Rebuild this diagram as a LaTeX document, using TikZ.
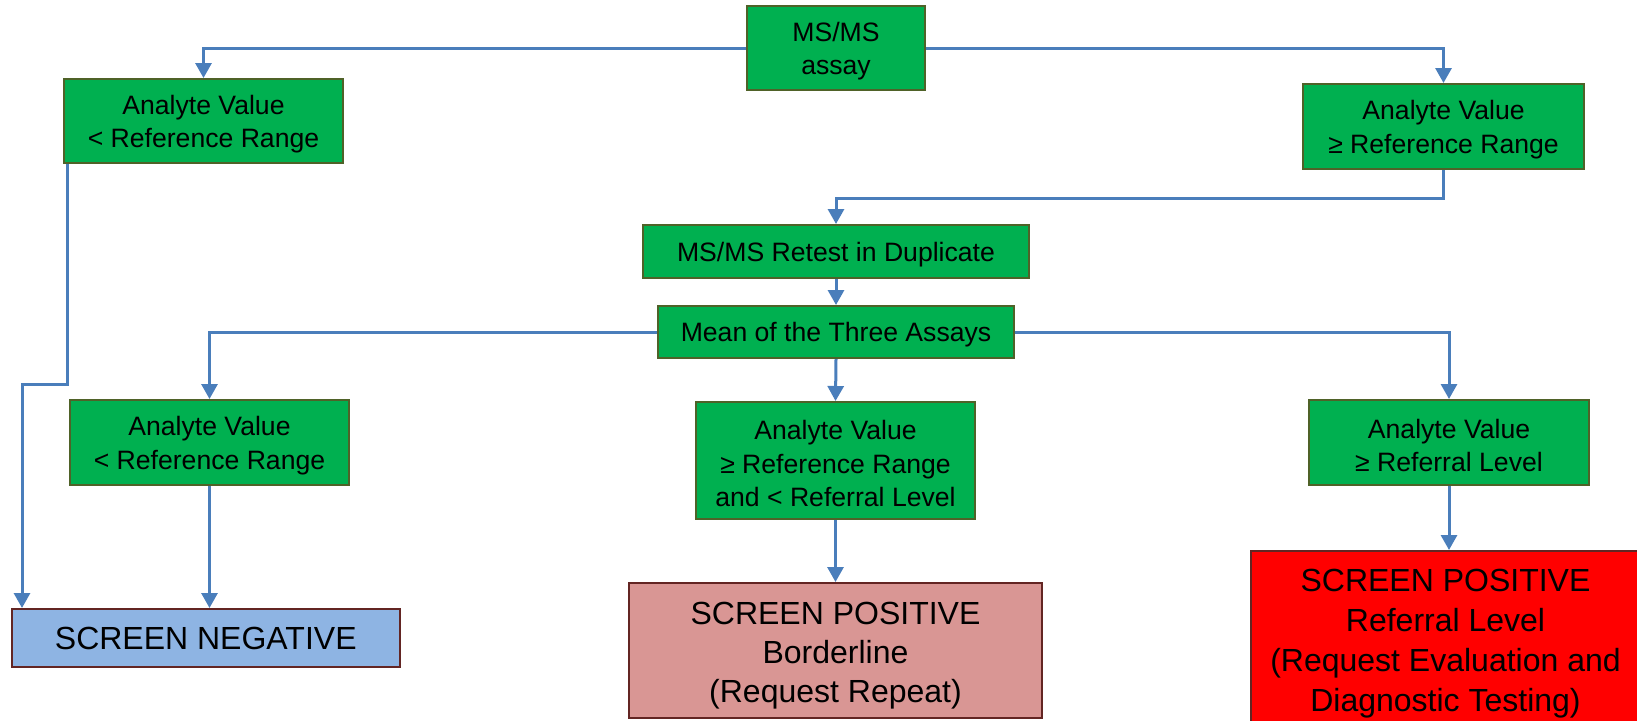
\documentclass[tikz,border=0pt]{standalone}
\usepackage{fontspec}
\setmainfont{Liberation Sans}
\usetikzlibrary{arrows.meta,calc}
\definecolor{boxgreen}{HTML}{00B050}
\definecolor{greenedge}{HTML}{4F6228}
\definecolor{connblue}{HTML}{4A7EBB}
\definecolor{negfill}{HTML}{8EB4E3}
\definecolor{darkedge}{HTML}{632523}
\definecolor{bordfill}{HTML}{D99694}
\definecolor{redfill}{HTML}{FF0000}
\newcommand{\glift}{\rule{0pt}{12.7pt}}
\newcommand{\blift}{\rule{0pt}{16.4pt}}
\newcommand{\rlift}{\rule{0pt}{15.4pt}}
\tikzset{
  gbox/.style={draw=greenedge, line width=1pt, fill=boxgreen, inner sep=0pt, align=center,
    font=\fontsize{13.3}{16.7}\selectfont},
  bigbox/.style={draw=darkedge, line width=1pt, inner sep=0pt, align=center,
    font=\fontsize{16}{19.4}\selectfont},
  conn/.style={draw=connblue, line width=1.5pt, -{Triangle[length=7.5pt,width=8pt]}}
}
\begin{document}
\begin{tikzpicture}[x=0.5pt,y=-0.5pt]
\useasboundingbox (0,0) rectangle (1637,720);
% nodes
\node[gbox, minimum width=89pt, minimum height=42pt] (ms) at (836,48) {\glift MS/MS\\assay};
\node[gbox, minimum width=139.5pt, minimum height=42pt] (av1) at (203.5,121) {\glift Analyte Value\\< Reference Range};
\node[gbox, minimum width=140.5pt, minimum height=42.5pt] (av2) at (1443.5,126.5) {\glift Analyte Value\\≥ Reference Range};
\node[gbox, minimum width=193pt, minimum height=26.5pt] (retest) at (836,251.5) {\glift MS/MS Retest in Duplicate};
\node[gbox, minimum width=178pt, minimum height=26pt] (mean) at (836,332) {\glift Mean of the Three Assays};
\node[gbox, minimum width=139.5pt, minimum height=42.5pt] (av3) at (209.5,442.5) {\glift Analyte Value\\< Reference Range};
\node[gbox, minimum width=139.5pt, minimum height=58.5pt] (avmid) at (835.5,460.5) {\glift Analyte Value\\≥ Reference Range\\and < Referral Level};
\node[gbox, minimum width=140pt, minimum height=42.5pt] (avr) at (1449,442.5) {\glift Analyte Value\\≥ Referral Level};
\node[bigbox, fill=negfill, minimum width=194.25pt, minimum height=29pt] (neg) at (205.75,638) {SCREEN NEGATIVE};
\node[bigbox, fill=bordfill, minimum width=206.5pt, minimum height=67.5pt] (bord) at (835.5,650.5) {\blift SCREEN POSITIVE\\Borderline\\(Request Repeat)};
\node[bigbox, fill=redfill, minimum width=195pt, minimum height=88pt, font=\fontsize{16}{20}\selectfont] (red) at (1445.5,639) {\rlift SCREEN POSITIVE\\Referral Level\\(Request Evaluation and\\Diagnostic Testing)};
% helper coordinates
\coordinate (bend1) at (22,384);
% connectors
\draw[conn] (ms.west) -| (av1.north);
\draw[conn] (ms.east) -| (av2.north);
\draw[conn] ($(av1.south west)+(4,0)$) |- (bend1) -- (bend1 |- neg.north);
\draw[conn] (av2.south) -- ++(0,28) -| (retest.north);
\draw[conn] (retest.south) -- (mean.north);
\draw[conn] (mean.west) -| (av3.north);
\draw[conn] (mean.east) -| (avr.north);
\draw[conn] (mean.south) -- (avmid.north);
\draw[conn] (av3.south) -- (av3.south |- neg.north);
\draw[conn] (avmid.south) -- (bord.north);
\draw[conn] (avr.south) -- (avr.south |- red.north);
\end{tikzpicture}
\end{document}
